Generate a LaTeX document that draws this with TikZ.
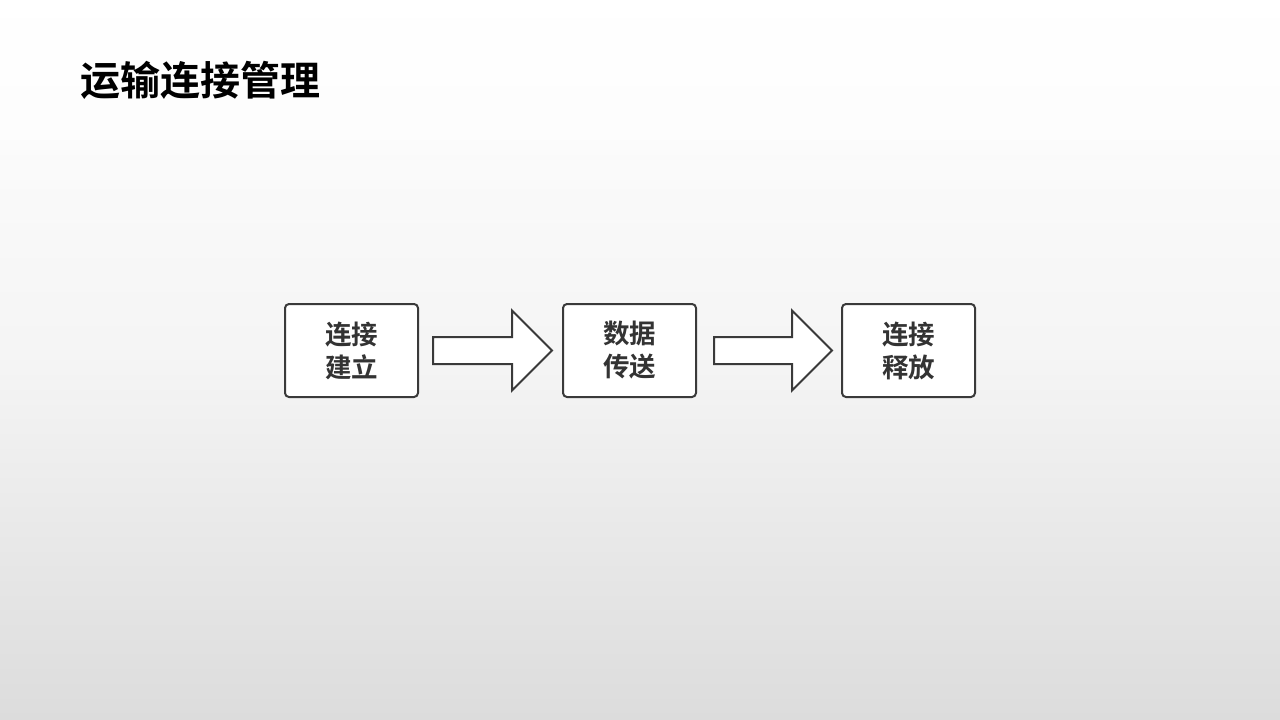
\documentclass[tikz,border=0pt]{standalone}
\usepackage{fontspec}
\newfontfamily\cjkb{Noto Sans CJK SC Bold}
\definecolor{edge}{HTML}{3A3A3A}
\definecolor{txt}{HTML}{333333}
\definecolor{bgbot}{HTML}{DCDCDC}
\begin{document}
\begin{tikzpicture}[x=1pt,y=-1pt,
  stepbox/.style={draw=edge,line width=2pt,rounded corners=4pt,fill=white,
    minimum width=133pt,minimum height=93pt,inner sep=0pt,
    font=\cjkb\fontsize{26.5}{33}\selectfont,text=txt,align=center},
  blockarrow/.style={draw=edge,line width=2pt,fill=white,line join=miter}]
\useasboundingbox (0,0) rectangle (1280,720);
\shade[top color=white,bottom color=bgbot,middle color=white!70!bgbot] (0,0) rectangle (1280,720);
\fill[white,opacity=0.6] (0,0) rectangle (1280,140);
\node[anchor=west,font=\cjkb\fontsize{40}{42}\selectfont,text=black,inner sep=0pt] (title) at (80,80) {运输连接管理};
\node[stepbox] (a) at (351.5,350.5) {连接\\建立};
\node[stepbox] (b) at (629.5,350.5) {数据\\传送};
\node[stepbox] (c) at (908.5,350.5) {连接\\释放};
\coordinate (a1) at ([xshift=14pt]a.east);
\coordinate (a2) at ([xshift=-10pt]b.west);
\coordinate (b1) at ([xshift=17pt]b.east);
\coordinate (b2) at ([xshift=-9pt]c.west);
\draw[blockarrow] ([yshift=13.5pt]a1) -- ([yshift=-13.5pt]a1) -- ([xshift=-40pt,yshift=-13.5pt]a2)
  -- ([xshift=-40pt,yshift=-40pt]a2) -- (a2) -- ([xshift=-40pt,yshift=40pt]a2)
  -- ([xshift=-40pt,yshift=13.5pt]a2) -- cycle;
\draw[blockarrow] ([yshift=13.5pt]b1) -- ([yshift=-13.5pt]b1) -- ([xshift=-40pt,yshift=-13.5pt]b2)
  -- ([xshift=-40pt,yshift=-40pt]b2) -- (b2) -- ([xshift=-40pt,yshift=40pt]b2)
  -- ([xshift=-40pt,yshift=13.5pt]b2) -- cycle;
\end{tikzpicture}
\end{document}
